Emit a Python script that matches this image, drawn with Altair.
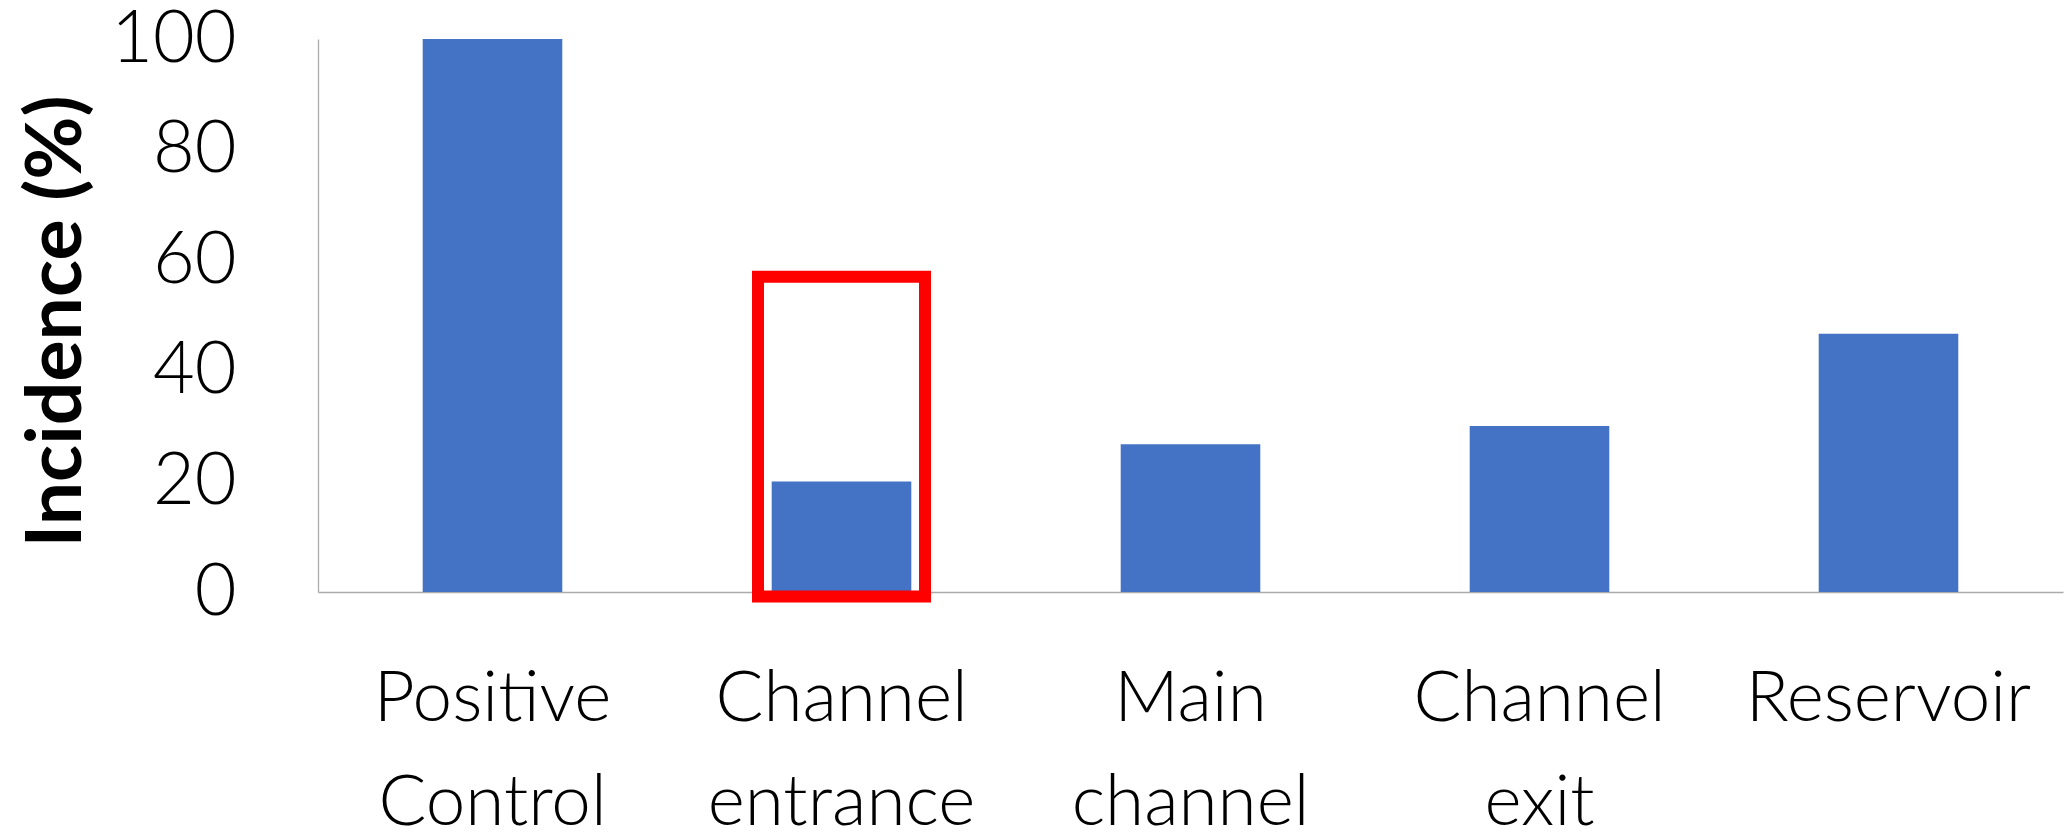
import altair as alt
import pandas as pd

# Incidence by sampling location
locations = ["Positive Control", "Channel entrance", "Main channel", "Channel exit", "Reservoir"]
incidence = [100, 20, 26.7, 30, 46.7]

# Highlight box around the channel-entrance bar (in % units)
highlight_location = ["Channel entrance"]
highlight_top = [57]
highlight_bottom = [-0.8]

bars_df = pd.DataFrame({"location": locations, "incidence": incidence})
box_df = pd.DataFrame({"location": highlight_location,
                       "top": highlight_top,
                       "bottom": highlight_bottom})

FONT = "Lato"

x_enc = alt.X(
    "location:N",
    sort=locations,
    scale=alt.Scale(paddingInner=0.6, paddingOuter=0.3),
    axis=alt.Axis(
        title=None,
        labelAngle=0,
        labelExpr="split(datum.label, ' ')",
        labelFont=FONT,
        labelFontSize=71,
        labelFontWeight=300,
        labelColor="black",
        labelLineHeight=104,
        labelPadding=72,
        labelBaseline="top",
        ticks=False,
        domainColor="#ababab",
        domainWidth=1.3,
        labelLimit=0,
    ),
)

bars = alt.Chart(bars_df).mark_bar(color="#4472C4").encode(
    x=x_enc,
    y=alt.Y(
        "incidence:Q",
        scale=alt.Scale(domain=[0, 100], nice=False),
        axis=alt.Axis(
            title="Incidence (%)",
            values=[0, 20, 40, 60, 80, 100],
            grid=False,
            ticks=False,
            labelFont=FONT,
            labelFontSize=72,
            labelFontWeight=300,
            labelColor="black",
            labelPadding=82,
            domainColor="#ababab",
            domainWidth=1.3,
            titleFont=FONT,
            titleFontSize=77,
            titleFontWeight="bold",
            titleColor="black",
            titleAngle=270,
            titleAlign="center",
            titleBaseline="alphabetic",
            titleX=-238,
            titleY=282,
        ),
    ),
)

box = alt.Chart(box_df).mark_bar(
    size=167, fillOpacity=0, stroke="#FF0000", strokeWidth=12, clip=False
).encode(
    x=alt.X("location:N", sort=locations),
    y=alt.Y("top:Q"),
    y2="bottom:Q",
)

chart = (
    alt.layer(bars, box)
    .properties(
        width=1745,
        height=553,
        background="white",
        autosize=alt.AutoSizeParams(type="none"),
        padding={"left": 318, "top": 39, "right": 2, "bottom": 247},
    )
    .configure_view(stroke=None, strokeWidth=0)
)

chart.save("out.html", embed_options={"renderer": "svg", "actions": False})
